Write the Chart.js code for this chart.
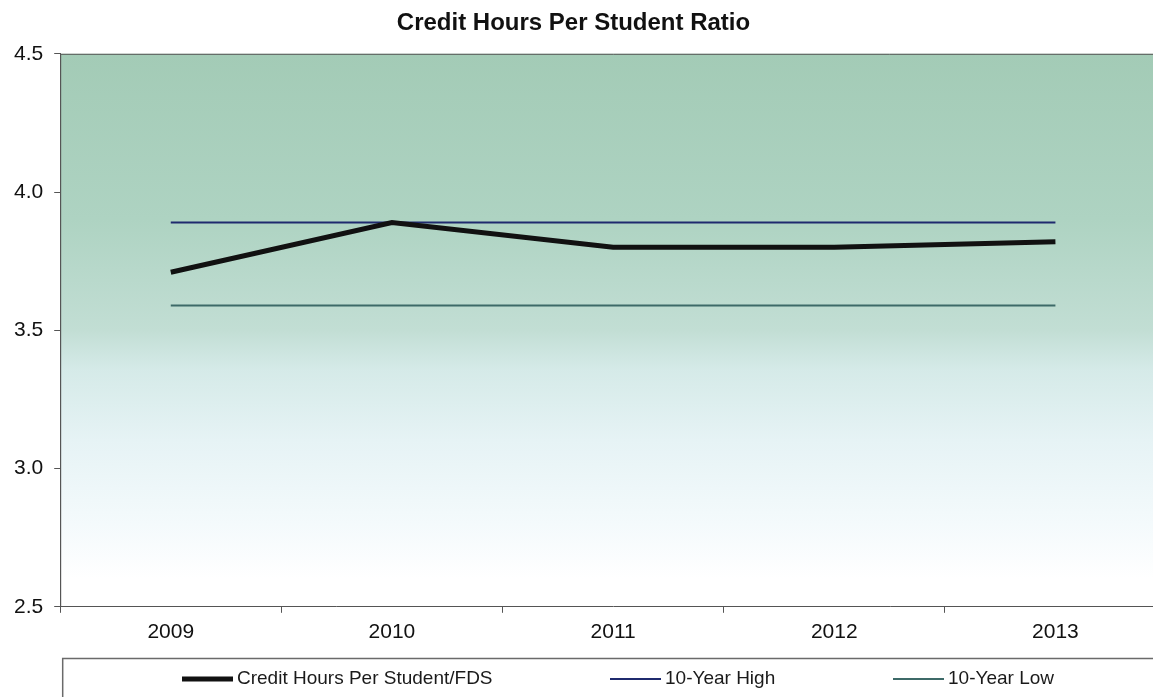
<!DOCTYPE html>
<html>
<head>
<meta charset="utf-8">
<script src="https://cdn.jsdelivr.net/npm/chart.js@4/dist/chart.umd.min.js"></script>
<style>
  html, body { margin: 0; padding: 0; background: #fff; overflow: hidden; }
  #wrap { position: relative; width: 1166px; height: 697px; }
</style>
</head>
<body>
<div id="wrap"><canvas id="grafico"></canvas></div>
<script>
// Dados
const anos = ['2009', '2010', '2011', '2012', '2013'];
const horasPorAluno = [3.71, 3.89, 3.80, 3.80, 3.82];
const maxDezAnos = [3.89, 3.89, 3.89, 3.89, 3.89];
const minDezAnos = [3.59, 3.59, 3.59, 3.59, 3.59];
const ticksY = [2.5, 3.0, 3.5, 4.0, 4.5];

const fonte = 'Liberation Sans, Arial, sans-serif';

// Posição inicial (x) de cada item da legenda
const legendaX = [182, 610, 893];

// Fundo em degradê da área de plotagem + legenda emoldurada
const fundo = {
    id: 'fundo',
    afterLayout(chart) {
        // título levemente à esquerda, como no original
        chart.titleBlock.left -= 22;
    },
    beforeDraw(chart) {
        const { ctx, chartArea: a } = chart;
        const g = ctx.createLinearGradient(0, a.top, 0, a.bottom);
        g.addColorStop(0, '#a3cbb6');
        g.addColorStop(0.3, '#aed3c2');
        g.addColorStop(0.5, '#c2ded4');
        g.addColorStop(0.57, '#d5eae8');
        g.addColorStop(0.7, '#e6f3f5');
        g.addColorStop(0.85, '#f4fafc');
        g.addColorStop(0.95, '#ffffff');
        ctx.save();
        ctx.fillStyle = g;
        ctx.fillRect(a.left, a.top, a.right - a.left, a.bottom - a.top);
        ctx.strokeStyle = '#555';
        ctx.lineWidth = 1;
        ctx.beginPath();
        ctx.moveTo(a.left + 0.5, a.bottom);
        ctx.lineTo(a.left + 0.5, a.top + 0.5);
        ctx.lineTo(a.right, a.top + 0.5);
        ctx.stroke();
        ctx.restore();
    },
    afterDraw(chart) {
        const { ctx, chartArea: a } = chart;
        ctx.save();
        ctx.strokeStyle = '#6a6a6a';
        ctx.lineWidth = 1.5;
        ctx.strokeRect(a.left + 2.5, 658.5, chart.width, 60);
        const y = 679;
        ctx.font = '19px ' + fonte;
        ctx.textBaseline = 'middle';
        ctx.fillStyle = '#1a1a1a';
        chart.data.datasets.forEach((ds, i) => {
            const x = legendaX[i];
            ctx.strokeStyle = ds.borderColor;
            ctx.lineWidth = ds.borderWidth;
            ctx.beginPath();
            ctx.moveTo(x, y);
            ctx.lineTo(x + 51, y);
            ctx.stroke();
            ctx.fillText(ds.label, x + 55, y);
        });
        ctx.restore();
    }
};

const ctx = document.getElementById('grafico');
new Chart(ctx, {
    type: 'line',
    data: {
        labels: anos,
        datasets: [
            { label: 'Credit Hours Per Student/FDS', data: horasPorAluno, borderColor: '#111', backgroundColor: '#111', borderWidth: 5, pointRadius: 0, tension: 0 },
            { label: '10-Year High', data: maxDezAnos, borderColor: '#1f2a6e', backgroundColor: '#1f2a6e', borderWidth: 2, pointRadius: 0 },
            { label: '10-Year Low', data: minDezAnos, borderColor: '#3d6a68', backgroundColor: '#3d6a68', borderWidth: 2, pointRadius: 0 }
        ]
    },
    options: {
        responsive: true,
        maintainAspectRatio: false,
        animation: false,
        layout: { padding: { left: 3, right: 0, top: 0, bottom: 45 } },
        plugins: {
            title: {
                display: true,
                text: 'Credit Hours Per Student Ratio',
                color: '#111',
                font: { family: fonte, size: 24, weight: 'bold' },
                padding: { top: 9, bottom: 16 }
            },
            legend: { display: false },
            tooltip: { enabled: false }
        },
        scales: {
            x: {
                offset: true,
                grid: { offset: true, drawOnChartArea: false, drawTicks: true, tickLength: 6, color: '#555' },
                border: { color: '#555', width: 1 },
                ticks: { color: '#111', padding: 7, font: { family: fonte, size: 21 } }
            },
            y: {
                min: 2.5,
                max: 4.5,
                afterBuildTicks(scale) { scale.ticks = ticksY.map(v => ({ value: v })); },
                grid: { drawOnChartArea: false, drawTicks: true, tickLength: 6, color: '#555' },
                border: { color: '#555', width: 1 },
                ticks: {
                    color: '#111', padding: 11,
                    font: { family: fonte, size: 21 },
                    callback: v => Number(v).toFixed(1)
                }
            }
        }
    },
    plugins: [fundo]
});
</script>
</body>
</html>
